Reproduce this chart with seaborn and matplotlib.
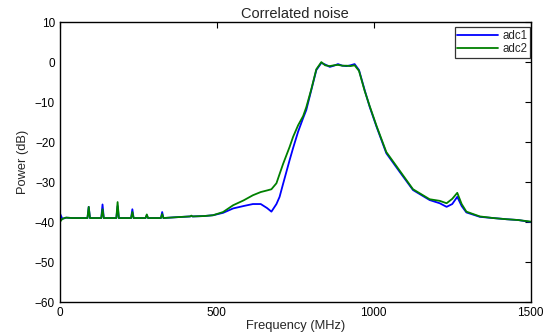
import matplotlib
matplotlib.use('Agg')

import pandas as pd
import matplotlib.pyplot as plt
import seaborn as sns

# Frequency grid (MHz) and spectra (dB)
freq = [0, 8, 20, 40, 60, 88, 92, 96, 132, 136, 140, 180, 184, 188, 227, 231, 235,
        273, 277, 281, 322, 326, 330, 370, 415, 419, 423, 460, 488, 520, 552, 585,
        615, 640, 660, 674, 690, 700, 711, 732, 743, 759, 775, 785, 801, 817, 833,
        845, 860, 873, 886, 900, 913, 926, 939, 953, 971, 987, 1009, 1040, 1083,
        1125, 1178, 1210, 1232, 1250, 1266, 1280, 1295, 1338, 1380, 1423, 1460, 1500]

adc1 = [-37.8, -39.2, -38.9, -39.0, -39.0, -39.0, -36.2, -39.0, -39.0, -35.6, -39.0,
        -39.0, -36.0, -39.0, -39.0, -36.8, -39.0, -39.0, -38.3, -39.0, -39.0, -37.5,
        -39.0, -38.8, -38.6, -38.5, -38.6, -38.5, -38.3, -37.7, -36.6, -36.0, -35.5,
        -35.5, -36.5, -37.4, -35.5, -33.7, -30.5, -24.5, -21.5, -17.4, -14.0, -12.0,
        -7.0, -2.0, -0.2, -0.6, -1.2, -0.9, -0.5, -0.9, -1.0, -0.8, -0.5, -2.0, -7.0,
        -11.2, -16.2, -22.8, -27.5, -32.0, -34.5, -35.3, -36.2, -35.5, -33.7, -36.0,
        -37.6, -38.7, -39.0, -39.3, -39.5, -40.0]

adc2 = [-40.0, -39.2, -38.9, -39.0, -39.0, -39.0, -36.2, -39.0, -39.0, -36.8, -39.0,
        -39.0, -35.0, -39.0, -39.0, -37.5, -39.0, -39.0, -38.1, -39.0, -39.0, -38.0,
        -39.0, -38.8, -38.6, -38.4, -38.6, -38.5, -38.3, -37.5, -35.8, -34.6, -33.3,
        -32.5, -32.1, -31.8, -30.3, -28.0, -25.5, -21.2, -18.7, -15.8, -13.5, -11.3,
        -6.8, -1.8, 0.0, -0.8, -1.0, -0.8, -0.7, -0.9, -0.9, -1.0, -0.8, -2.2, -7.2,
        -11.0, -16.0, -22.5, -27.2, -31.8, -34.3, -34.7, -35.3, -34.2, -32.7, -35.5,
        -37.4, -38.6, -39.0, -39.3, -39.5, -39.9]

df = pd.DataFrame({
    'Frequency': freq * 2,
    'Power': adc1 + adc2,
    'Channel': ['adc1'] * len(freq) + ['adc2'] * len(freq),
})

sns.set_style('white')
plt.rcParams['font.family'] = ['Liberation Sans', 'DejaVu Sans']

fig = plt.figure(figsize=(5.54, 3.35), dpi=100)
ax = fig.add_axes([0.108, 0.0985, 0.85, 0.8355])

sns.lineplot(data=df, x='Frequency', y='Power', hue='Channel',
             palette={'adc1': '#0000ff', 'adc2': '#008000'}, linewidth=1.3, ax=ax)

ax.set_xlim(0, 1500)
ax.set_ylim(-60, 10)
ax.set_xticks([0, 500, 1000, 1500])
ax.set_yticks(range(-60, 11, 10))
ax.tick_params(direction='in', length=4, width=0.8, labelsize=8.5, colors='black',
               top=True, right=True)
for s in ax.spines.values():
    s.set_color('black')
    s.set_linewidth(1.0)

ax.set_title("Correlated noise", fontsize=10.5, pad=3)
ax.set_xlabel("Frequency (MHz)", fontsize=9.3, labelpad=1)
ax.set_ylabel("Power (dB)", fontsize=9.3, labelpad=4)

leg = ax.legend(loc='upper right', bbox_to_anchor=(0.999, 0.983), fontsize=8.3,
                frameon=True, fancybox=False, borderpad=0.25, handlelength=3.5,
                handletextpad=0.4, labelspacing=0.1, borderaxespad=0)
leg.get_frame().set_edgecolor('black')
leg.get_frame().set_linewidth(0.9)

fig.savefig("out.png", dpi=100)
